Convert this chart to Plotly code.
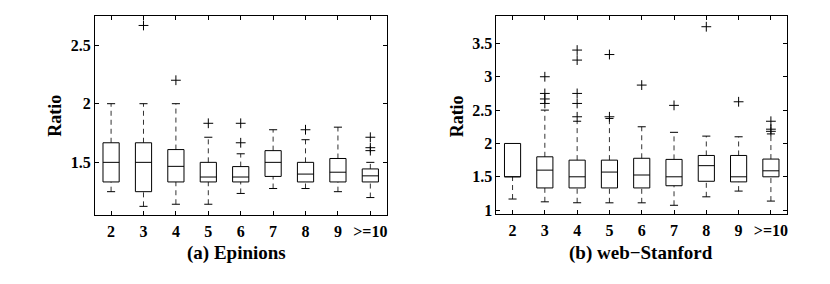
import plotly.graph_objects as go

# ---------------- data ----------------
categories = ["2", "3", "4", "5", "6", "7", "8", "9", ">=10"]
positions = [1, 2, 3, 4, 5, 6, 7, 8, 9]

# (a) Epinions
ep_q1 = [1.333, 1.25, 1.333, 1.333, 1.333, 1.38, 1.333, 1.333, 1.333]
ep_med = [1.5, 1.5, 1.466, 1.375, 1.375, 1.5, 1.4, 1.416, 1.385]
ep_q3 = [1.667, 1.667, 1.609, 1.5, 1.464, 1.6, 1.5, 1.533, 1.444]
ep_lo = [1.25, 1.125, 1.143, 1.143, 1.235, 1.277, 1.277, 1.25, 1.2]
ep_hi = [2.0, 2.0, 2.0, 1.714, 1.573, 1.778, 1.693, 1.8, 1.5]
ep_out = [[], [2.667], [2.2], [1.833], [1.833, 1.667], [], [1.778], [], [1.714, 1.625, 1.6]]

# (b) web-Stanford
ws_q1 = [1.5, 1.333, 1.333, 1.333, 1.333, 1.366, 1.433, 1.424, 1.5]
ws_med = [1.5, 1.6, 1.5, 1.571, 1.527, 1.5, 1.667, 1.5, 1.59]
ws_q3 = [2.0, 1.8, 1.75, 1.75, 1.778, 1.761, 1.82, 1.82, 1.766]
ws_lo = [1.167, 1.125, 1.111, 1.11, 1.11, 1.073, 1.2, 1.286, 1.136]
ws_hi = [2.0, 2.5, 2.333, 2.375, 2.25, 2.167, 2.11, 2.1, 2.143]
ws_out = [[], [3.0, 2.75, 2.667, 2.6], [3.4, 3.25, 2.75, 2.6, 2.4], [3.333, 2.4],
          [2.875], [2.571], [3.75], [2.625], [2.333, 2.214, 2.182]]

ep_yticks = [1.5, 2, 2.5]
ws_yticks = [1, 1.5, 2, 2.5, 3, 3.5]

# ---------------- style ----------------
BOX_HW = 0.25
CAP_HW = 0.125
LINE = dict(color="black", width=1)
FONT = "Liberation Serif"

fig = go.Figure()


def add_panel(q1, med, q3, lo, hi, outs, xa, ya):
    bx, by, mx, my, wx, wy, cx, cy, ox, oy = [], [], [], [], [], [], [], [], [], []
    for p, a, m, b, l, h, o in zip(positions, q1, med, q3, lo, hi, outs):
        bx += [p - BOX_HW, p + BOX_HW, p + BOX_HW, p - BOX_HW, p - BOX_HW, None]
        by += [a, a, b, b, a, None]
        mx += [p - BOX_HW, p + BOX_HW, None]
        my += [m, m, None]
        if h > b:
            wx += [p, p, None]
            wy += [b, h, None]
            cx += [p - CAP_HW, p + CAP_HW, None]
            cy += [h, h, None]
        if l < a:
            wx += [p, p, None]
            wy += [l, a, None]
            cx += [p - CAP_HW, p + CAP_HW, None]
            cy += [l, l, None]
        for v in o:
            ox.append(p)
            oy.append(v)
    common = dict(xaxis=xa, yaxis=ya, showlegend=False, hoverinfo="skip")
    fig.add_trace(go.Scatter(x=wx, y=wy, mode="lines",
                             line=dict(color="#333333", width=1, dash="5px,4px"), **common))
    fig.add_trace(go.Scatter(x=cx, y=cy, mode="lines", line=LINE, **common))
    fig.add_trace(go.Scatter(x=bx, y=by, mode="lines", line=LINE, **common))
    fig.add_trace(go.Scatter(x=mx, y=my, mode="lines", line=LINE, **common))
    fig.add_trace(go.Scatter(x=ox, y=oy, mode="markers",
                             marker=dict(symbol="cross-thin", size=7,
                                         line=dict(color="black", width=1)), **common))


add_panel(ep_q1, ep_med, ep_q3, ep_lo, ep_hi, ep_out, "x", "y")
add_panel(ws_q1, ws_med, ws_q3, ws_lo, ws_hi, ws_out, "x2", "y2")

W, H = 830, 284
axis_common = dict(showline=True, linecolor="black", linewidth=1, mirror="ticks",
                   ticks="inside", ticklen=4, tickcolor="black", showgrid=False,
                   zeroline=False, tickfont=dict(family=FONT, size=16, color="black"))

fig.update_layout(
    width=W, height=H,
    margin=dict(l=0, r=0, t=0, b=0),
    paper_bgcolor="white", plot_bgcolor="white",
    font=dict(family=FONT, color="black"),
    xaxis=dict(domain=[95 / W, 387 / W], range=[0.5, 9.5], tickvals=positions,
               ticktext=[f"<b>{c}</b>" for c in categories], anchor="y",
               ticklabelstandoff=2, **axis_common),
    yaxis=dict(domain=[1 - 219 / H, 1 - 16 / H], range=[1.05, 2.75], tickvals=ep_yticks,
               ticktext=[f"<b>{v:g}</b>" for v in ep_yticks], anchor="x", **axis_common),
    xaxis2=dict(domain=[497 / W, 788 / W], range=[0.5, 9.5], tickvals=positions,
                ticktext=[f"<b>{c}</b>" for c in categories], anchor="y2",
                ticklabelstandoff=2, **axis_common),
    yaxis2=dict(domain=[1 - 218 / H, 1 - 16 / H], range=[0.94, 3.915], tickvals=ws_yticks,
                ticktext=[f"<b>{v:g}</b>" for v in ws_yticks], anchor="x2", **axis_common),
)

ann = dict(xref="paper", yref="paper", showarrow=False,
           xanchor="center", yanchor="middle")
ratio_font = dict(family=FONT, size=18, color="black")
cap_font = dict(family=FONT, size=19, color="black")
fig.add_annotation(text="<b>Ratio</b>", x=55 / W, y=1 - 118 / H, textangle=-90, font=ratio_font, **ann)
fig.add_annotation(text="<b>Ratio</b>", x=457 / W, y=1 - 118 / H, textangle=-90, font=ratio_font, **ann)
fig.add_annotation(text="<b>(a) Epinions</b>", x=237 / W, y=1 - 258 / H, font=cap_font, **ann)
fig.add_annotation(text="<b>(b) web\u2212Stanford</b>", x=642 / W, y=1 - 258 / H, font=cap_font, **ann)

fig.write_html("out.html", config={"displayModeBar": False},
               post_script="document.body.style.margin='0';")
